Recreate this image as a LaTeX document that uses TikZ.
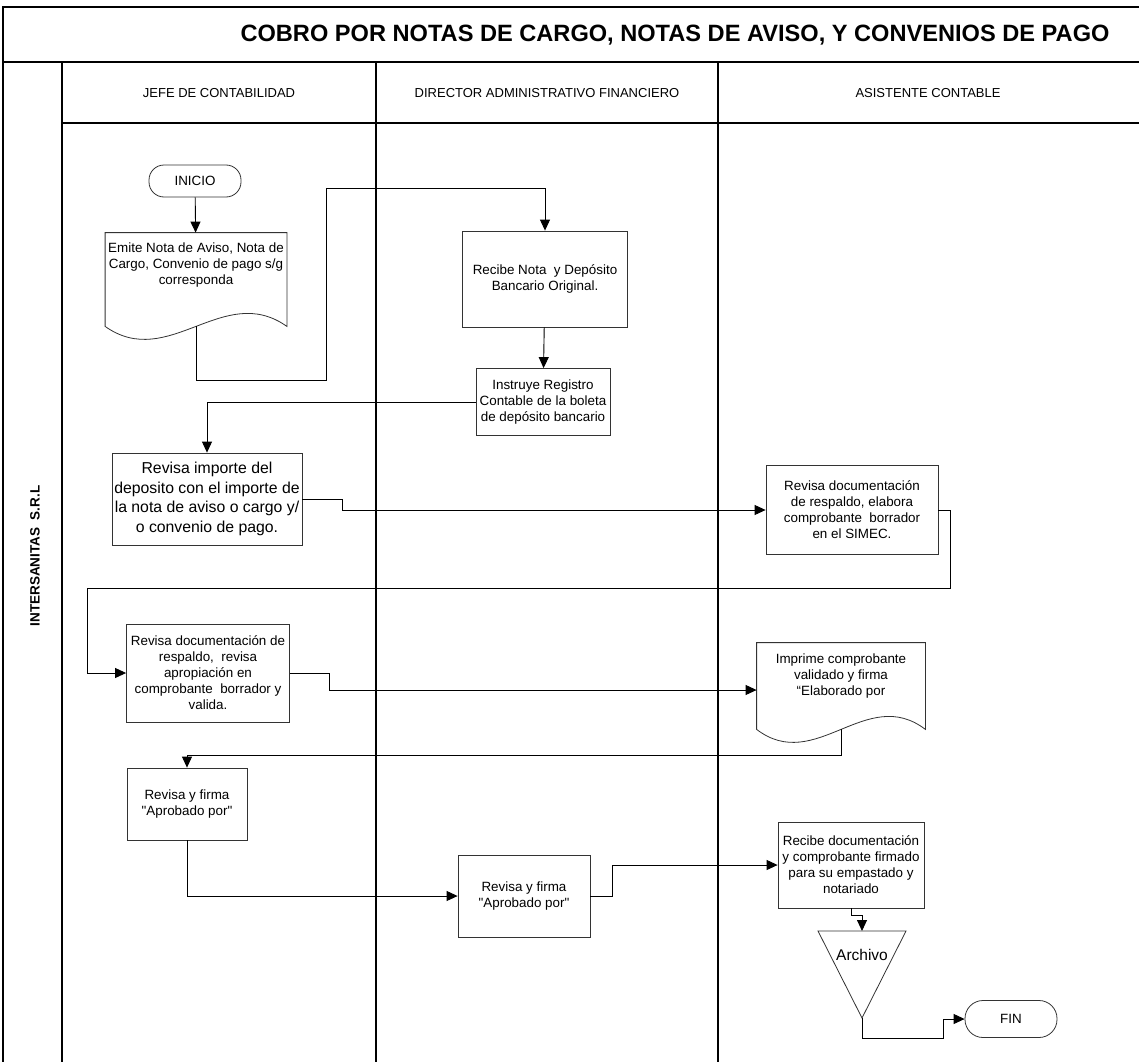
\documentclass[tikz,border=0pt]{standalone}
\usepackage{fontspec}
\setmainfont{Liberation Sans}
\usetikzlibrary{arrows.meta,positioning,calc}
\tikzset{
  frame/.style={line width=1.3pt},
  docline/.style={draw=black!80, line width=0.8pt},
  box/.style={docline, align=center, font=\fontsize{13.4}{16}\selectfont, inner sep=2pt},
  term/.style={box, rounded corners=15pt, minimum width=92pt},
  flow/.style={line width=0.9pt, -{Triangle[length=11pt,width=10pt]}},
}
% outline of a document shape round a node, #2 = how far the sides reach below it
\newcommand\docwave[2]{%
  \draw[docline] (#1.north west) -- (#1.north east) -- ([yshift=-#2]#1.south east)
    .. controls ($([yshift=-#2]#1.south east)!0.35!([yshift=-#2]#1.south west)+(0pt,45pt)$)
       and ($([yshift=-#2]#1.south east)!0.65!([yshift=-#2]#1.south west)+(0pt,-45pt)$)
    .. ([yshift=-#2]#1.south west) -- cycle;}
\begin{document}
\begin{tikzpicture}[x=1pt,y=-1pt]
\useasboundingbox (0,0) rectangle (1139,1062);
% frame and lanes
\draw[frame] (1139,7) -- (3,7) -- (3,1062);
\draw[frame] (3,62) -- (1139,62);
\draw[frame] (62,123) -- (1139,123);
\foreach \x in {62,376,718} \draw[frame] (\x,62) -- (\x,1062);
\node[font=\bfseries\fontsize{23.6}{28}\selectfont] (title) at (675,35) {COBRO POR NOTAS DE CARGO, NOTAS DE AVISO, Y CONVENIOS DE PAGO};
\node[font=\fontsize{13}{15}\selectfont] (jefe) at (219,93) {JEFE DE CONTABILIDAD};
\node[font=\fontsize{13}{15}\selectfont] (director) at (547,93) {DIRECTOR ADMINISTRATIVO FINANCIERO};
\node[font=\fontsize{13}{15}\selectfont] (asistente) at (928,93) {ASISTENTE CONTABLE};
\node[font=\bfseries\fontsize{13.5}{16}\selectfont, rotate=90] (empresa) at (35,556) {INTERSANITAS \ S.R.L};

% steps
\node[term, minimum height=32pt] (inicio) at (195,181) {INICIO};
\node[box, draw=none, minimum width=181pt, minimum height=64pt] (emite) at (196,265) {Emite Nota de Aviso, Nota de\\Cargo, Convenio de pago s/g\\corresponda};
\docwave{emite}{29pt}
\coordinate (emite-b) at ([yshift=-29pt]emite.south);
\node[box, minimum width=165pt, minimum height=96pt] (recibe) at (545,279) {Recibe Nota\ \ y Depósito\\Bancario Original.};
\node[box, minimum width=134pt, minimum height=67pt] (instruye) at (543,402) {Instruye Registro\\Contable de la boleta\\de depósito bancario};
\node[box, font=\fontsize{15.8}{19.5}\selectfont, minimum width=190pt, minimum height=92pt] (revimp) at (207,499) {Revisa importe del\\deposito con el importe de\\la nota de aviso o cargo y/\\o convenio de pago.};
\node[box, minimum width=172pt, minimum height=89pt] (revdoc) at (852,510) {Revisa documentación\\de respaldo, elabora\\comprobante\ \ borrador\\en el SIMEC.};
\node[box, minimum width=163pt, minimum height=98pt] (revval) at (208,673) {Revisa documentación de\\respaldo,\ \ revisa\\apropiación en\\comprobante\ \ borrador y\\valida.};
\node[box, draw=none, minimum width=168pt, minimum height=66pt] (imprime) at (841,676) {Imprime comprobante\\validado y firma\\“Elaborado por};
\docwave{imprime}{20pt}
\coordinate (imprime-b) at ([yshift=-20pt]imprime.south);
\node[box, minimum width=120pt, minimum height=72pt] (firma1) at (187,804) {Revisa y firma\\\textquotedbl Aprobado por\textquotedbl};
\node[box, minimum width=132pt, minimum height=82pt] (firma2) at (524,896) {Revisa y firma\\\textquotedbl Aprobado por\textquotedbl};
\node[box, minimum width=146pt, minimum height=86pt] (recdoc) at (851,865) {Recibe documentación\\y comprobante firmado\\para su empastado y\\notariado};
% archive triangle
\coordinate (arch-top) at (862,931);
\coordinate (arch-bot) at (862,1018);
\draw[docline] (818,931) -- (906,931) -- (arch-bot) -- cycle;
\node[font=\fontsize{15.5}{18}\selectfont] (archivo) at (862,955) {Archivo};
\node[term, minimum height=37pt, rounded corners=18pt] (fin) at (1011,1019) {FIN};

% connectors
\draw[flow] (inicio) -- (emite);
\draw[flow] (emite-b) |- (326,380) -- (326,188) -| (recibe.north);
\draw[flow] (recibe) -- (instruye);
\draw[flow] (instruye.west) -| (revimp.north);
\draw[flow] (revimp.east) -- ++(40,0) |- (revdoc.west);
\draw[flow] (revdoc.east) -- ++(12,0) |- (87,588) |- (revval.west);
\draw[flow] (revval.east) -- ++(40,0) |- ([yshift=-14pt]imprime.west);
\draw[flow] (imprime-b) -- ++(0,26) -| (firma1.north);
\draw[flow] (firma1.south) |- (firma2.west);
\draw[flow] (firma2.east) -- ++(22,0) |- (recdoc.west);
\draw[flow] (recdoc.south) -- ++(0,7) -| (arch-top);
\draw[flow] (arch-bot) -- ++(0,20) -| (943,1019) -- (fin.west);
\end{tikzpicture}
\end{document}
